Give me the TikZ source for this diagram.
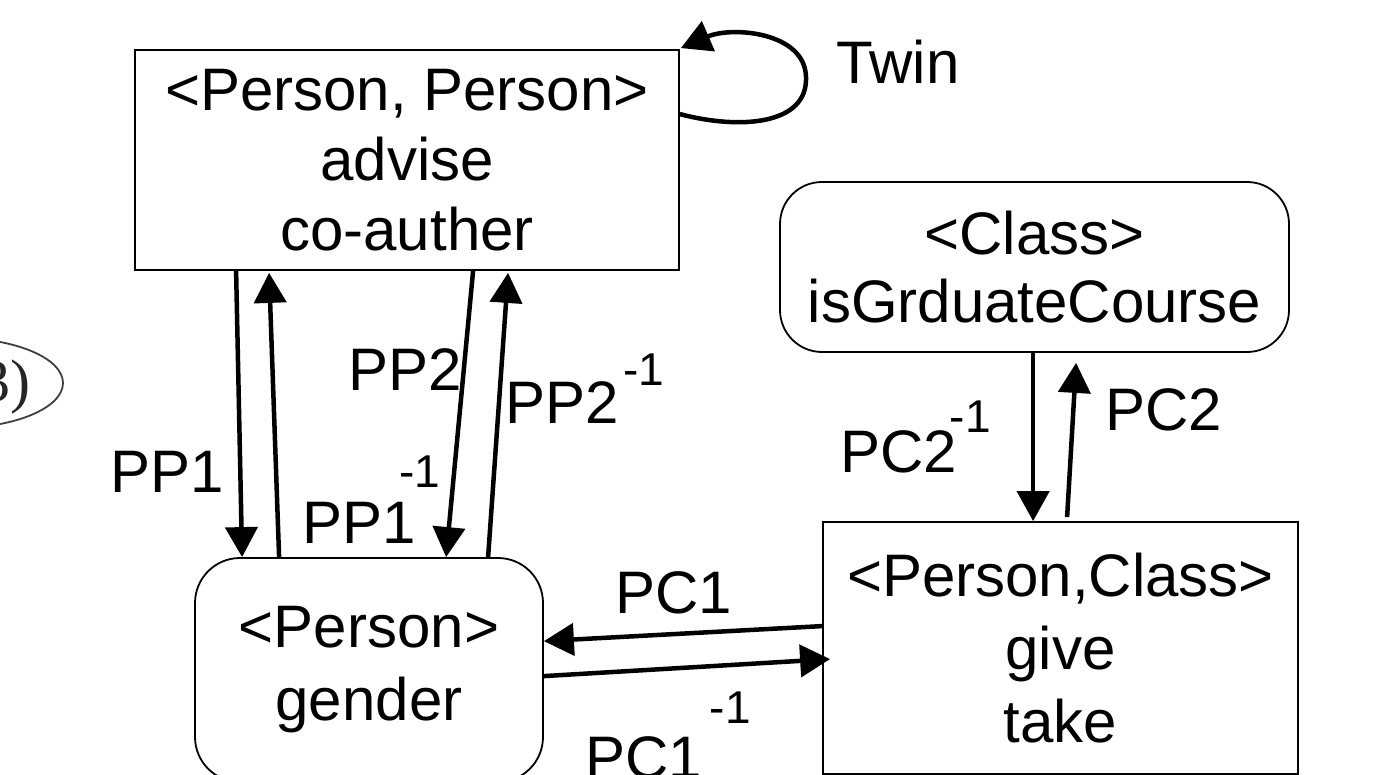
\documentclass[tikz,border=0pt]{standalone}
\usepackage{fontspec}
\setmainfont{Liberation Sans}
\newfontfamily\serifB{Liberation Serif}
\usetikzlibrary{arrows.meta,calc}
\newcommand\supone[2]{\kern#2\raisebox{#1}{\fontsize{46}{46}\selectfont -1}}
\begin{document}
\begin{tikzpicture}[x=1pt,y=-1pt,
  txt/.style={font=\fontsize{60}{71}\selectfont, align=center},
  sqbox/.style={draw, line width=1.8pt, inner sep=0pt, txt},
  rbox/.style={sqbox, rounded corners=42pt},
  conn/.style={line width=4.5pt, -{Triangle[length=30pt,width=32pt]}},
  lbl/.style={anchor=base west, inner sep=0pt, font=\fontsize{60}{60}\selectfont}]
\fill[white] (0,0) rectangle (1378,775);
\useasboundingbox (0,0) rectangle (1378,775);

% cut-off ellipse at the left edge
\draw[line width=1.8pt, black!75] (-44,383) ellipse [x radius=107, y radius=45];
\node[anchor=base east, inner sep=0pt, font=\serifB\fontsize{60}{60}\selectfont, text=black!85] (b3) at (31,401) {(3)};

% boxes
\node[sqbox, minimum width=544pt, minimum height=220pt, font=\fontsize{60}{70}\selectfont] (pp) at (407,160) {<Person, Person>\\advise\\co-auther};
\node[rbox, minimum width=509pt, minimum height=170pt, font=\fontsize{60}{68}\selectfont] (cls) at (1034.5,267) {<Class>\\isGrduateCourse};
\node[rbox, rounded corners=45pt, minimum width=348pt, minimum height=224pt, font=\fontsize{60}{73}\selectfont] (per) at (369,670) {<Person>\\gender};
\node[sqbox, minimum width=475pt, minimum height=252pt, font=\fontsize{60}{73}\selectfont] (pc) at (1060.5,648) {<Person,Class>\\give\\take};

% Twin loop
\draw[conn] ([yshift=-65pt]pp.north east) .. controls (740,130) and (808,125) .. (806,77)
  .. controls (805,32) and (732,26) .. ([xshift=1pt,yshift=1pt]pp.north east);

% PP arrows
\draw[conn] ([xshift=102pt]pp.south west) -- ([xshift=48pt]per.north west);
\draw[conn] ([xshift=85pt]per.north west) -- ([xshift=135pt,yshift=-2pt]pp.south west);
\draw[conn] ([xshift=339pt]pp.south west) -- ([xshift=252pt]per.north west);
\draw[conn] ([xshift=294pt]per.north west) -- ([xshift=374pt,yshift=-2pt]pp.south west);

% PC2 arrows
\draw[conn] ([xshift=254pt]cls.south west) -- ([xshift=211pt]pc.north west);
\draw[conn] ([xshift=245pt,yshift=4pt]pc.north west) -- ([xshift=297pt,yshift=-10pt]cls.south west);

% PC1 arrows
\draw[conn] ([yshift=-105pt]pc.north west) -- ([yshift=-84pt]per.north east);
\draw[conn] ([yshift=-119pt]per.north east) -- ([xshift=8pt,yshift=-138pt]pc.north west);

% labels
\node[lbl] (lTwin) at (836,84) {Twin};
\node[lbl] (lPP1) at (110,492) {PP1};
\node[lbl] (lPP2) at (348,390) {PP2};
\node[lbl] (lPP2i) at (505,423) {PP2\supone{38pt}{5pt}};
\node[lbl] (lPP1i) at (302,543) {PP1\supone{56pt}{-16pt}};
\node[lbl] (lPC2i) at (840,472) {PC2\supone{40pt}{-7pt}};
\node[lbl] (lPC2) at (1105,430) {PC2};
\node[lbl] (lPC1) at (615,613) {PC1};
\node[lbl] (lPC1i) at (585,778) {PC1\supone{55pt}{8pt}};
\end{tikzpicture}
\end{document}
